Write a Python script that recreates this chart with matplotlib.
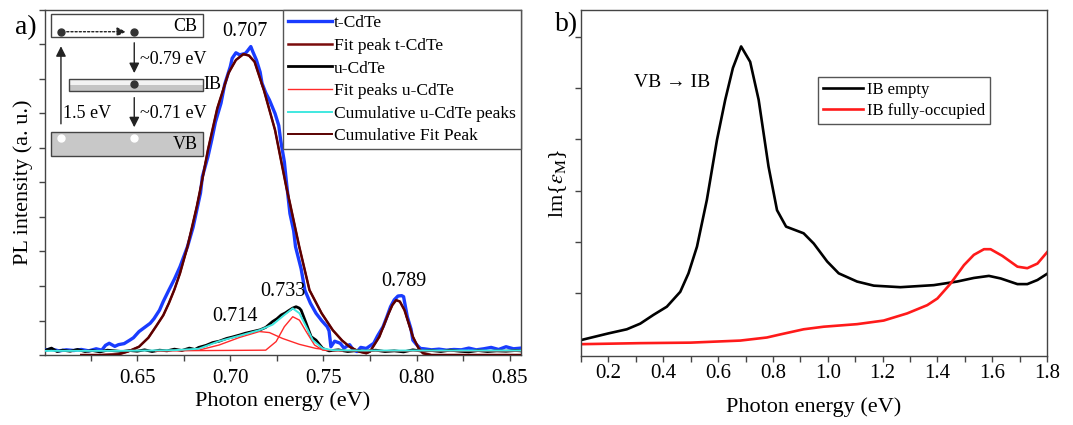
import matplotlib
matplotlib.use("Agg")
import matplotlib.pyplot as plt
from matplotlib.patches import Rectangle
from matplotlib.ticker import MultipleLocator, NullFormatter

plt.rcParams['font.family'] = ['Liberation Serif', 'DejaVu Serif']
plt.rcParams['mathtext.fontset'] = 'stix'

# ---- panel a: PL spectra (intensity in arbitrary units) ----
t_energy = [0.600, 0.604, 0.608, 0.612, 0.616, 0.620, 0.624, 0.628, 0.631, 0.633,
            0.635, 0.638, 0.640, 0.643, 0.646, 0.648, 0.651, 0.654, 0.657, 0.659,
            0.662, 0.664, 0.667, 0.670, 0.673, 0.675, 0.677, 0.680, 0.682, 0.684,
            0.685, 0.688, 0.690, 0.692, 0.695, 0.697, 0.700, 0.701, 0.703, 0.705,
            0.708, 0.709, 0.711, 0.712, 0.714, 0.716, 0.717, 0.719, 0.721, 0.724,
            0.726, 0.727, 0.729, 0.730, 0.732, 0.734, 0.735, 0.738, 0.740, 0.743,
            0.746, 0.749, 0.752, 0.753, 0.754, 0.756, 0.759, 0.761, 0.764, 0.766,
            0.768, 0.770, 0.773, 0.777, 0.779, 0.782, 0.784, 0.786, 0.788, 0.790,
            0.792, 0.793, 0.794, 0.795, 0.797, 0.798, 0.800, 0.802, 0.804, 0.808,
            0.812, 0.816, 0.820, 0.824, 0.828, 0.832, 0.836, 0.840, 0.844, 0.848,
            0.852, 0.856]
t_pl = [0.14, 0.17, 0.12, 0.15, 0.13, 0.16, 0.12, 0.18, 0.14, 0.28,
        0.34, 0.25, 0.30, 0.33, 0.43, 0.50, 0.68, 0.80, 0.92, 1.05,
        1.30, 1.55, 1.88, 2.20, 2.56, 2.85, 3.14, 3.70, 4.20, 4.70,
        5.17, 5.75, 6.23, 6.75, 7.30, 7.85, 8.36, 8.60, 8.76, 8.70,
        8.74, 8.80, 8.94, 8.80, 8.55, 8.20, 7.88, 7.60, 7.39, 7.00,
        6.65, 6.23, 5.60, 5.07, 4.10, 3.60, 3.14, 2.50, 1.88, 1.50,
        1.21, 1.00, 0.82, 0.70, 0.24, 0.40, 0.34, 0.20, 0.30, 0.15,
        0.10, 0.22, 0.19, 0.34, 0.55, 0.82, 1.10, 1.40, 1.60, 1.71,
        1.72, 1.69, 1.40, 1.11, 0.75, 0.43, 0.30, 0.19, 0.18, 0.15,
        0.17, 0.14, 0.16, 0.15, 0.20, 0.15, 0.18, 0.22, 0.16, 0.24,
        0.18, 0.20]

fit_energy = [0.620, 0.630, 0.640, 0.645, 0.651, 0.656, 0.660, 0.664, 0.667, 0.670,
              0.673, 0.677, 0.682, 0.685, 0.688, 0.693, 0.699, 0.703, 0.707, 0.710,
              0.713, 0.718, 0.724, 0.730, 0.732, 0.737, 0.7425, 0.749, 0.755, 0.760,
              0.764, 0.769, 0.773, 0.775, 0.780, 0.7846, 0.787, 0.789, 0.791, 0.7935,
              0.798, 0.801, 0.8034, 0.808, 0.820, 0.840, 0.856]
fit_pl = [0.0, 0.0, 0.02, 0.10, 0.24, 0.50, 0.82, 1.15, 1.50, 1.90,
          2.37, 3.14, 4.30, 5.10, 5.95, 7.15, 8.17, 8.55, 8.72, 8.68,
          8.50, 7.68, 6.52, 4.88, 4.40, 3.14, 1.88, 1.21, 0.72, 0.42,
          0.24, 0.10, 0.05, 0.10, 0.53, 1.16, 1.45, 1.59, 1.55, 1.30,
          0.53, 0.20, 0.05, 0.0, 0.0, 0.0, 0.0]

u_energy = [0.600, 0.604, 0.607, 0.610, 0.614, 0.618, 0.622, 0.626, 0.630, 0.634,
            0.638, 0.642, 0.646, 0.650, 0.654, 0.658, 0.662, 0.666, 0.670, 0.674,
            0.678, 0.681, 0.683, 0.687, 0.6905, 0.694, 0.698, 0.701, 0.705, 0.708,
            0.712, 0.716, 0.719, 0.7227, 0.725, 0.7273, 0.7295, 0.7317, 0.7335, 0.7353,
            0.737, 0.738, 0.7407, 0.7434, 0.746, 0.7496, 0.753, 0.758, 0.763, 0.768,
            0.773, 0.778, 0.783, 0.788, 0.793, 0.798, 0.803, 0.808, 0.813, 0.818,
            0.823, 0.828, 0.833, 0.838, 0.843, 0.848, 0.853, 0.856]
u_pl = [0.12, 0.20, 0.10, 0.14, 0.11, 0.16, 0.10, 0.13, 0.09, 0.14,
        0.12, 0.10, 0.13, 0.11, 0.15, 0.10, 0.14, 0.12, 0.17, 0.13,
        0.20, 0.16, 0.22, 0.28, 0.36, 0.40, 0.48, 0.52, 0.58, 0.63,
        0.68, 0.73, 0.80, 0.97, 1.05, 1.16, 1.22, 1.30, 1.36, 1.40,
        1.36, 1.30, 0.92, 0.53, 0.43, 0.19, 0.12, 0.15, 0.10, 0.13,
        0.11, 0.14, 0.10, 0.12, 0.09, 0.15, 0.11, 0.13, 0.10, 0.14,
        0.11, 0.09, 0.13, 0.10, 0.12, 0.11, 0.13, 0.12]

u_peak1_energy = [0.660, 0.683, 0.694, 0.705, 0.7156, 0.721, 0.728, 0.737, 0.746, 0.755, 0.770, 0.856]
u_peak1_pl = [0.12, 0.14, 0.29, 0.51, 0.68, 0.65, 0.48, 0.31, 0.19, 0.13, 0.12, 0.12]
u_peak2_energy = [0.660, 0.719, 0.7246, 0.729, 0.7335, 0.7371, 0.7407, 0.7452, 0.7496, 0.760]
u_peak2_pl = [0.12, 0.14, 0.39, 0.82, 1.11, 1.01, 0.68, 0.29, 0.14, 0.12]

u_cum_energy = [0.600, 0.640, 0.670, 0.683, 0.694, 0.705, 0.7156, 0.7227, 0.729, 0.7335,
                0.7371, 0.7407, 0.7443, 0.7496, 0.755, 0.770, 0.856]
u_cum_pl = [0.12, 0.12, 0.14, 0.18, 0.40, 0.56, 0.72, 0.88, 1.16, 1.35,
            1.21, 0.82, 0.43, 0.19, 0.14, 0.13, 0.13]

peak_labels = ['0.707', '0.714', '0.733', '0.789']
peak_label_x = [0.708, 0.7024, 0.7283, 0.793]
peak_label_y = [9.37, 1.12, 1.83, 2.13]

# ---- panel b: Im{eps_M} ----
b_energy_empty = [0.10, 0.20, 0.267, 0.316, 0.364, 0.413, 0.462, 0.492, 0.523, 0.559,
                  0.596, 0.626, 0.654, 0.684, 0.717, 0.748, 0.784, 0.815, 0.848, 0.912,
                  0.949, 0.998, 1.04, 1.107, 1.168, 1.265, 1.387, 1.472, 1.533, 1.588,
                  1.631, 1.692, 1.728, 1.765, 1.80]
b_eps_empty = [0.09, 0.22, 0.30, 0.41, 0.58, 0.74, 1.03, 1.39, 1.91, 2.82,
               3.99, 4.77, 5.39, 5.81, 5.51, 4.77, 3.47, 2.62, 2.30, 2.17,
               1.97, 1.62, 1.39, 1.23, 1.15, 1.12, 1.16, 1.23, 1.30, 1.34,
               1.29, 1.18, 1.18, 1.26, 1.38]
b_energy_occ = [0.10, 0.316, 0.50, 0.681, 0.778, 0.827, 0.912, 0.985, 1.107, 1.204,
                1.29, 1.363, 1.40, 1.448, 1.497, 1.533, 1.57, 1.594, 1.637, 1.692,
                1.728, 1.765, 1.80]
b_eps_occ = [0.01, 0.03, 0.04, 0.08, 0.14, 0.20, 0.30, 0.35, 0.40, 0.47,
             0.61, 0.77, 0.90, 1.19, 1.55, 1.75, 1.86, 1.86, 1.73, 1.52,
             1.49, 1.58, 1.80]

fig = plt.figure(figsize=(10.73, 4.25), dpi=100)
ax1 = fig.add_axes([0.0419, 0.1647, 0.4436, 0.8118])
ax2 = fig.add_axes([0.5415, 0.1624, 0.4343, 0.8141])

dark_red = '#7a0c0c'
ax1.plot(t_energy, t_pl, color='#1a3cff', lw=2.4, label='t-CdTe', zorder=3)
ax1.plot(fit_energy, fit_pl, color=dark_red, lw=1.8, label='Fit peak t-CdTe', zorder=4)
ax1.plot(u_energy, u_pl, color='black', lw=2.0, label='u-CdTe', zorder=3)
ax1.plot(u_peak1_energy, u_peak1_pl, color='#ff2a2a', lw=1.0, label='Fit peaks u-CdTe', zorder=4)
ax1.plot(u_peak2_energy, u_peak2_pl, color='#ff2a2a', lw=1.0, zorder=4)
ax1.plot(u_cum_energy, u_cum_pl, color='#40e8e0', lw=1.4, label='Cumulative u-CdTe peaks', zorder=5)
ax1.plot(fit_energy, fit_pl, color='#5a0000', lw=1.4, label='Cumulative Fit Peak', zorder=4)

for lab, x, y in zip(peak_labels, peak_label_x, peak_label_y):
    ax1.text(x, y, lab, fontsize=14.5, ha='center', va='center')

ax1.set_xlim(0.6005, 0.856)
ax1.set_ylim(0, 10)
ax1.xaxis.set_major_locator(MultipleLocator(0.05))
ax1.xaxis.set_minor_locator(MultipleLocator(0.025))
ax1.xaxis.set_major_formatter(plt.FormatStrFormatter('%.2f'))
ax1.yaxis.set_major_locator(MultipleLocator(1))
ax1.yaxis.set_major_formatter(NullFormatter())
ax1.set_xlabel('Photon energy (eV)', fontsize=16)
ax1.set_ylabel('PL intensity (a. u.)', fontsize=16)
ax1.xaxis.set_label_coords(0.5, -0.105)
ax1.yaxis.set_label_coords(-0.026, 0.5)

leg1 = ax1.legend(loc='upper right', borderaxespad=0, fontsize=12.6, handlelength=2.5,
                  handletextpad=0.1, labelspacing=0.36, borderpad=0.3,
                  fancybox=False, edgecolor='#555555', framealpha=1)
leg1.get_frame().set_linewidth(1.0)

# band diagram inset (axes fraction)
tr = ax1.transAxes
ax1.add_patch(Rectangle((0.012, 0.921), 0.319, 0.067, transform=tr, fc='white', ec='#444444', lw=1.0, zorder=6))
ax1.add_patch(Rectangle((0.050, 0.766), 0.281, 0.034, transform=tr, fc='#f2f2f2', ec='none', zorder=6))
ax1.add_patch(Rectangle((0.050, 0.766), 0.281, 0.018, transform=tr, fc='#c4c4c4', ec='none', zorder=6))
ax1.add_patch(Rectangle((0.050, 0.766), 0.281, 0.034, transform=tr, fc='none', ec='#444444', lw=1.0, zorder=6))
ax1.add_patch(Rectangle((0.012, 0.578), 0.319, 0.068, transform=tr, fc='#c8c8c8', ec='#444444', lw=1.0, zorder=6))
ax1.plot([0.0336, 0.1876], [0.937, 0.937], 'o', color='#333333', ms=5, transform=tr, zorder=7)
ax1.plot([0.1876], [0.786], 'o', color='#333333', ms=5, transform=tr, zorder=7)
ax1.plot([0.0336, 0.1876], [0.628, 0.628], 'o', color='white', ms=5, transform=tr, zorder=7)
ax1.annotate('', xy=(0.176, 0.937), xytext=(0.040, 0.937), xycoords=tr, textcoords=tr,
             arrowprops=dict(arrowstyle='-|>', ls=(0, (1.5, 1.5)), color='#222222', lw=1.0,
                             mutation_scale=13), zorder=7)
arrow_kw = dict(arrowstyle='-|>', color='#222222', lw=1.0, mutation_scale=15)
ax1.annotate('', xy=(0.1876, 0.809), xytext=(0.1876, 0.913), xycoords=tr, textcoords=tr,
             arrowprops=arrow_kw, zorder=7)
ax1.annotate('', xy=(0.1876, 0.652), xytext=(0.1876, 0.754), xycoords=tr, textcoords=tr,
             arrowprops=arrow_kw, zorder=7)
ax1.annotate('', xy=(0.0336, 0.903), xytext=(0.0336, 0.662), xycoords=tr, textcoords=tr,
             arrowprops=arrow_kw, zorder=7)
ax1.text(0.294, 0.953, 'CB', transform=tr, fontsize=13, ha='center', va='center', zorder=8)
ax1.text(0.294, 0.611, 'VB', transform=tr, fontsize=13, ha='center', va='center', zorder=8)
ax1.text(0.333, 0.783, 'IB', transform=tr, fontsize=13, ha='left', va='center', zorder=8)
ax1.text(0.200, 0.856, '~0.79 eV', transform=tr, fontsize=13, ha='left', va='center', zorder=8)
ax1.text(0.200, 0.700, '~0.71 eV', transform=tr, fontsize=13, ha='left', va='center', zorder=8)
ax1.text(0.038, 0.700, '1.5 eV', transform=tr, fontsize=13, ha='left', va='center', zorder=8)

ax2.plot(b_energy_empty, b_eps_empty, color='black', lw=1.9, label='IB empty')
ax2.plot(b_energy_occ, b_eps_occ, color='#ff1a1a', lw=1.9, label='IB fully-occupied')
ax2.set_xlim(0.1, 1.8)
ax2.set_ylim(-0.22, 6.52)
ax2.xaxis.set_major_locator(MultipleLocator(0.2))
ax2.xaxis.set_minor_locator(MultipleLocator(0.1))
ax2.xaxis.set_major_formatter(plt.FormatStrFormatter('%.1f'))
ax2.set_yticks([1, 2, 3, 4, 5, 6])
ax2.yaxis.set_major_formatter(NullFormatter())
ax2.set_xlabel('Photon energy (eV)', fontsize=16)
ax2.set_ylabel(r'lm{$\varepsilon_{\mathrm{M}}$}', fontsize=16)
ax2.xaxis.set_label_coords(0.5, -0.12)
ax2.yaxis.set_label_coords(-0.026, 0.5)
ax2.text(0.196, 0.79, 'VB → IB', transform=ax2.transAxes, fontsize=14, ha='center', va='center')
leg2 = ax2.legend(loc='upper left', bbox_to_anchor=(0.509, 0.806), borderaxespad=0,
                  fontsize=12, handlelength=2.4, handletextpad=0.2, labelspacing=0.3,
                  borderpad=0.3, fancybox=False, edgecolor='#555555', framealpha=1)
leg2.get_frame().set_linewidth(1.0)

for ax, pad in ((ax1, 6), (ax2, 2)):
    for s in ax.spines.values():
        s.set_color('#444444')
        s.set_linewidth(1.0)
    ax.tick_params(which='both', direction='out', length=4, width=1.0, color='#444444',
                   labelsize=15, pad=pad)

fig.text(0.024, 0.934, 'a)', fontsize=20, ha='center', va='center')
fig.text(0.528, 0.941, 'b)', fontsize=20, ha='center', va='center')

fig.savefig('out.png', dpi=100)
